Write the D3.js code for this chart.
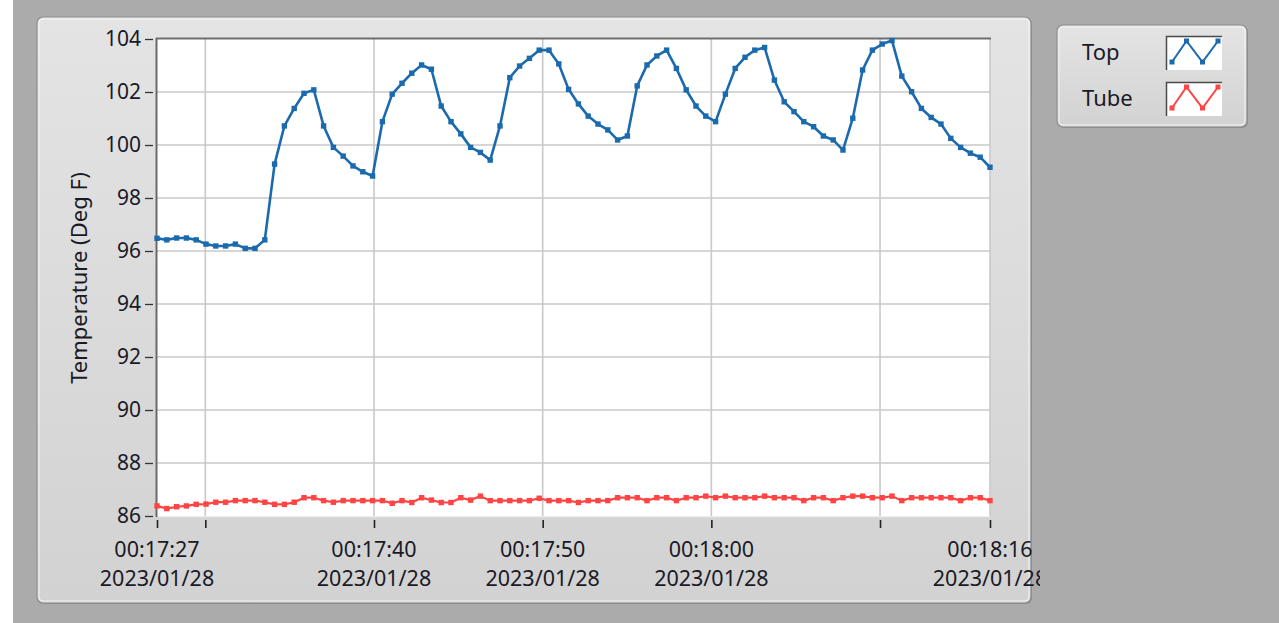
<!DOCTYPE html>
<html><head><meta charset="utf-8">
<script src="https://cdn.jsdelivr.net/npm/d3@7/dist/d3.min.js"></script>
<style>
html,body{margin:0;padding:0;background:#ababab;overflow:hidden}
svg{display:block}
text{font-family:"Noto Sans","Open Sans",sans-serif;fill:#1a1a26}
</style>
</head><body>
<svg id="chart" width="1279" height="623"></svg>
<script>
// ---- data ----
const seriesNames = ["Top", "Tube"];
const seriesColors = ["#1b6aae", "#ff4444"];
const startTime = "2023/01/28 00:17:27.135";
const sampleIntervalMs = 581;
const topValues = [
  96.48, 96.42, 96.49, 96.49, 96.42, 96.26, 96.19, 96.19, 96.26, 96.10,
  96.10, 96.42, 99.28, 100.72, 101.38, 101.95, 102.08, 100.72, 99.91, 99.58,
  99.21, 98.99, 98.83, 100.88, 101.92, 102.33, 102.71, 103.02, 102.86, 101.47,
  100.88, 100.42, 99.91, 99.72, 99.43, 100.72, 102.54, 102.98, 103.27, 103.58,
  103.58, 103.06, 102.10, 101.55, 101.09, 100.79, 100.57, 100.19, 100.34, 102.23,
  103.02, 103.36, 103.58, 102.89, 102.08, 101.47, 101.09, 100.88, 101.92, 102.89,
  103.31, 103.58, 103.68, 102.45, 101.63, 101.26, 100.88, 100.69, 100.34, 100.19,
  99.81, 101.01, 102.83, 103.58, 103.81, 103.94, 102.60, 102.01, 101.38, 101.04,
  100.79, 100.25, 99.91, 99.69, 99.54, 99.16
];
const tubeValues = [
  86.38, 86.28, 86.35, 86.38, 86.44, 86.45, 86.52, 86.52, 86.58, 86.58,
  86.58, 86.52, 86.44, 86.44, 86.52, 86.69, 86.69, 86.58, 86.52, 86.58,
  86.58, 86.58, 86.58, 86.58, 86.48, 86.58, 86.51, 86.69, 86.60, 86.51,
  86.51, 86.69, 86.60, 86.75, 86.58, 86.58, 86.58, 86.58, 86.58, 86.67,
  86.58, 86.58, 86.58, 86.51, 86.58, 86.58, 86.58, 86.69, 86.69, 86.69,
  86.58, 86.69, 86.69, 86.58, 86.69, 86.69, 86.75, 86.69, 86.75, 86.69,
  86.69, 86.69, 86.75, 86.69, 86.69, 86.69, 86.58, 86.69, 86.69, 86.58,
  86.69, 86.75, 86.75, 86.69, 86.69, 86.75, 86.58, 86.69, 86.69, 86.69,
  86.69, 86.69, 86.58, 86.69, 86.69, 86.58
];
const yTickValues = [86, 88, 90, 92, 94, 96, 98, 100, 102, 104];
const xGridTimes = ["2023/01/28 00:17:30", "2023/01/28 00:17:40", "2023/01/28 00:17:50", "2023/01/28 00:18:00", "2023/01/28 00:18:10"];
const xLabeledTimes = ["2023/01/28 00:17:40", "2023/01/28 00:17:50", "2023/01/28 00:18:00"];
const yTitle = "Temperature (Deg F)";

// ---- layout ----
const L = 157, R = 990, T = 39, B = 516;
const parseFull = d3.timeParse("%Y/%m/%d %H:%M:%S.%L");
const parseSec = d3.timeParse("%Y/%m/%d %H:%M:%S");
const t0 = parseFull(startTime);
const n = topValues.length;
const tEnd = new Date(t0.getTime() + (n - 1) * sampleIntervalMs);
const timeOf = i => new Date(t0.getTime() + i * sampleIntervalMs);

const x = d3.scaleTime().domain([t0, tEnd]).range([L, R]);
const y = d3.scaleLinear().domain([86, 104]).range([B, T]);

const svg = d3.select("#chart");
const defs = svg.append("defs");
const g1 = defs.append("linearGradient").attr("id", "panelGrad").attr("x1", 0).attr("y1", 0).attr("x2", 0).attr("y2", 1);
g1.append("stop").attr("offset", "0%").attr("stop-color", "#e4e4e4");
g1.append("stop").attr("offset", "100%").attr("stop-color", "#d2d2d2");
defs.append("clipPath").attr("id", "labelClip").append("rect")
  .attr("x", 38).attr("y", 18).attr("width", 1002).attr("height", 584);

// white strip of the screenshot edge
svg.append("rect").attr("x", 0).attr("y", 0).attr("width", 13).attr("height", 623).attr("fill", "#ffffff");

function panel(px, py, pw, ph) {
  svg.append("rect").attr("x", px + 1).attr("y", py + 1).attr("width", pw).attr("height", ph).attr("rx", 6)
    .attr("fill", "#8c8c8c");
  svg.append("rect").attr("x", px).attr("y", py).attr("width", pw).attr("height", ph).attr("rx", 6)
    .attr("fill", "url(#panelGrad)").attr("stroke", "#8f8f8f").attr("stroke-width", 1.2);
  svg.append("rect").attr("x", px + 2).attr("y", py + 2).attr("width", pw - 4).attr("height", ph - 4).attr("rx", 4)
    .attr("fill", "none").attr("stroke", "#f4f4f4").attr("stroke-width", 1);
}
panel(37, 17, 994, 586);
panel(1057, 25, 190, 102);

// plot area
svg.append("rect").attr("x", L).attr("y", T).attr("width", R - L).attr("height", B - T + 1).attr("fill", "#ffffff");

// grid
const grid = svg.append("g").attr("stroke", "#c9c9c9").attr("stroke-width", 1.6);
grid.selectAll("line.h").data(yTickValues.filter(v => v > 86 && v < 104)).enter().append("line")
  .attr("x1", L).attr("x2", R).attr("y1", d => y(d)).attr("y2", d => y(d));
grid.selectAll("line.v").data(xGridTimes.map(parseSec)).enter().append("line")
  .attr("x1", d => x(d)).attr("x2", d => x(d)).attr("y1", T).attr("y2", B);
// plot frame
svg.append("line").attr("x1", R).attr("x2", R).attr("y1", T).attr("y2", B).attr("stroke", "#c9c9c9").attr("stroke-width", 1.6);
svg.append("line").attr("x1", L).attr("x2", R).attr("y1", B + 1).attr("y2", B + 1).attr("stroke", "#dcdcdc").attr("stroke-width", 1);
svg.append("line").attr("x1", L - 1).attr("x2", R + 1).attr("y1", T - 0.5).attr("y2", T - 0.5).attr("stroke", "#6e6e6e").attr("stroke-width", 2);

// y axis
const yAxis = d3.axisLeft(y).tickValues(yTickValues).tickSize(8).tickPadding(4).tickFormat(d3.format("d"));
const ya = svg.append("g").attr("transform", `translate(${L - 4},0)`).call(yAxis);
ya.select(".domain").remove();
ya.selectAll(".tick line").attr("stroke", "#333").attr("stroke-width", 1.3);
ya.selectAll(".tick text").attr("font-size", 21).attr("fill", "#1a1a26")
  .style("font-family", '"Noto Sans","Open Sans",sans-serif');
svg.append("line").attr("x1", L - 0.5).attr("x2", L - 0.5).attr("y1", T - 1).attr("y2", B + 1).attr("stroke", "#6a6a6a").attr("stroke-width", 2);

// x axis
const xTickDates = [t0].concat(xGridTimes.map(parseSec), [tEnd]);
const labeledSet = new Set([t0.getTime(), tEnd.getTime()].concat(xLabeledTimes.map(s => parseSec(s).getTime())));
const xAxis = d3.axisBottom(x).tickValues(xTickDates).tickSize(8).tickFormat("");
const xa = svg.append("g").attr("transform", `translate(0,${B + 4})`).call(xAxis);
xa.select(".domain").remove();
xa.selectAll(".tick line").attr("stroke", "#222").attr("stroke-width", 1.6);
const fmtTime = d3.timeFormat("%H:%M:%S");
const fmtDate = d3.timeFormat("%Y/%m/%d");
const xl = svg.append("g").attr("clip-path", "url(#labelClip)");
xTickDates.filter(d => labeledSet.has(d.getTime())).forEach(d => {
  xl.append("text").attr("x", x(d)).attr("y", 557).attr("text-anchor", "middle").attr("font-size", 21.5).text(fmtTime(d));
  xl.append("text").attr("x", x(d)).attr("y", 586).attr("text-anchor", "middle").attr("font-size", 21.5).text(fmtDate(d));
});

// y title
svg.append("text").attr("transform", "translate(87,278) rotate(-90)").attr("text-anchor", "middle")
  .attr("font-size", 22).text(yTitle);

// series
const allSeries = [topValues, tubeValues];
allSeries.forEach((vals, si) => {
  const pts = vals.map((v, i) => ({ t: timeOf(i), v }));
  const line = d3.line().x(d => x(d.t)).y(d => y(d.v));
  svg.append("path").datum(pts).attr("d", line).attr("fill", "none")
    .attr("stroke", seriesColors[si]).attr("stroke-width", si === 0 ? 2.6 : 2.2).attr("stroke-linejoin", "round");
  svg.append("g").selectAll("rect").data(pts).enter().append("rect")
    .attr("x", d => x(d.t) - 2.7).attr("y", d => y(d.v) - 2.7).attr("width", 5.4).attr("height", 5.4)
    .attr("fill", seriesColors[si]);
});

// legend
const swatchPts = [[6, 26], [20.5, 5], [36.5, 26], [52, 5]];
seriesNames.forEach((name, i) => {
  const by = 36 + i * 46;
  svg.append("text").attr("x", 1082).attr("y", 60 + i * 46).attr("font-size", 22).text(name);
  svg.append("rect").attr("x", 1166).attr("y", by).attr("width", 56).attr("height", 34).attr("fill", "#ffffff");
  svg.append("path").attr("d", `M1166.5,${by + 34}V${by + 0.5}H1222`).attr("fill", "none").attr("stroke", "#4a4a4a").attr("stroke-width", 1.5);
  const sl = d3.line().x(p => 1166 + p[0]).y(p => by + p[1]);
  svg.append("path").attr("d", sl(swatchPts)).attr("fill", "none").attr("stroke", seriesColors[i]).attr("stroke-width", 2);
  svg.append("g").selectAll("rect").data(swatchPts).enter().append("rect")
    .attr("x", p => 1166 + p[0] - 2.5).attr("y", p => by + p[1] - 2.5).attr("width", 5).attr("height", 5).attr("fill", seriesColors[i]);
});
</script>
</body></html>
